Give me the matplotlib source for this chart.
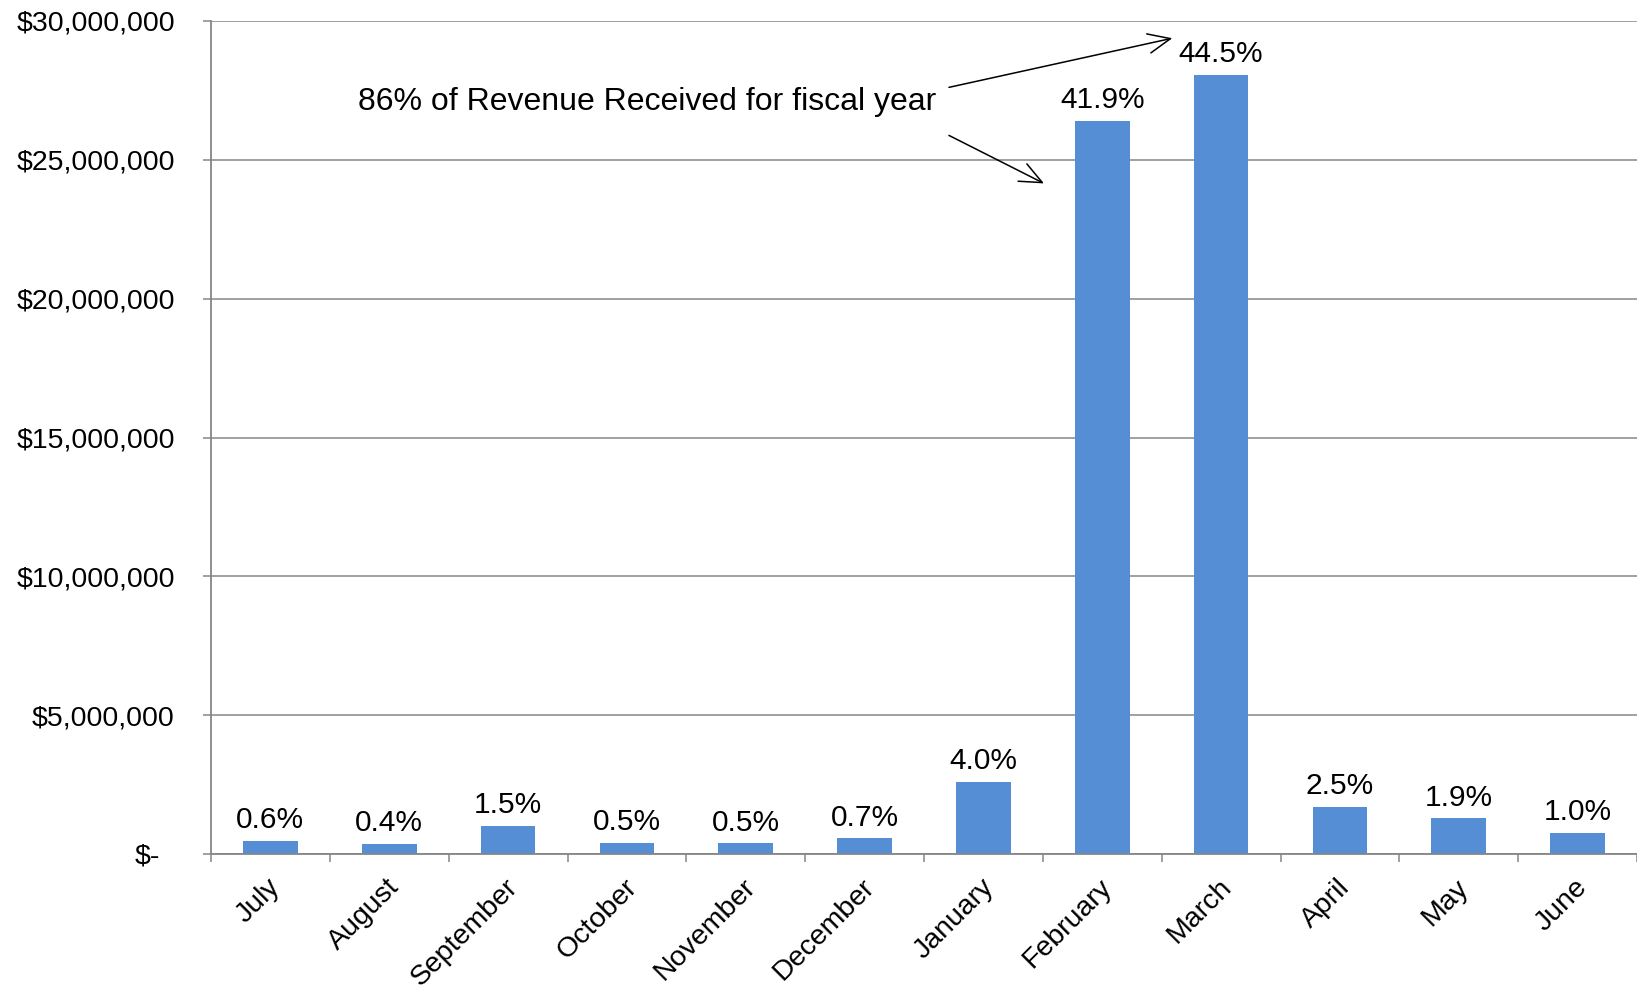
import matplotlib.pyplot as plt
import matplotlib.transforms as mtransforms
from matplotlib.ticker import FuncFormatter, FixedLocator

plt.rcParams['font.family'] = ['Liberation Sans', 'DejaVu Sans']

# monthly revenue (fiscal year order)
months = ['July', 'August', 'September', 'October', 'November', 'December',
          'January', 'February', 'March', 'April', 'May', 'June']
revenue = [470000, 370000, 1020000, 410000, 380000, 560000,
           2590000, 26400000, 28060000, 1690000, 1280000, 760000]
pct_labels = ['0.6%', '0.4%', '1.5%', '0.5%', '0.5%', '0.7%',
              '4.0%', '41.9%', '44.5%', '2.5%', '1.9%', '1.0%']
y_ticks = [0, 5000000, 10000000, 15000000, 20000000, 25000000, 30000000]
note = '86% of Revenue Received for fiscal year'

bar_color = '#558ED5'
grid_color = '#868686'

fig = plt.figure(figsize=(16.37, 9.92), dpi=100)
ax = fig.add_axes([211 / 1637, 1 - 854 / 992, 1 - 211 / 1637, (854 - 21) / 992])

x = list(range(len(months)))
bars = ax.bar(x, revenue, width=0.46, color=bar_color, zorder=3)

# percentage labels above bars
for b, lab in zip(bars, pct_labels):
    ax.annotate(lab, (b.get_x() + b.get_width() / 2, b.get_height()),
                xytext=(0, 5), textcoords='offset points',
                ha='center', va='bottom', fontsize=21.5, zorder=4)

ax.set_xlim(-0.5, len(months) - 0.5)
ax.set_ylim(0, 30000000)

# y axis
ax.yaxis.set_major_locator(FixedLocator(y_ticks))
ax.yaxis.set_major_formatter(FuncFormatter(lambda v, p: '$-' if v == 0 else '${:,.0f}'.format(v)))
ax.tick_params(axis='y', length=6, width=1.1, color=grid_color, pad=20, labelsize=20.5)
ax.grid(axis='y', color=grid_color, linewidth=1.1, zorder=0)
# the "$-" label sits a bit further left
lbls = ax.get_yticklabels()
lbls[0].set_transform(lbls[0].get_transform() +
                      mtransforms.ScaledTranslation(-15 / 100, 0, fig.dpi_scale_trans))

# x axis: tick marks between categories, labels at centers
ax.xaxis.set_major_locator(FixedLocator([i - 0.5 for i in range(len(months) + 1)]))
ax.xaxis.set_minor_locator(FixedLocator(x))
ax.set_xticklabels([''] * (len(months) + 1))
ax.set_xticklabels(months, minor=True, rotation=45, ha='right', rotation_mode='anchor')
ax.tick_params(axis='x', which='major', length=6, width=1.1, color=grid_color)
ax.tick_params(axis='x', which='minor', length=0, pad=14.5, labelsize=20.5)
off = mtransforms.ScaledTranslation(-3 / 100, 0, fig.dpi_scale_trans)
for t in ax.get_xticklabels(minor=True):
    t.set_transform(t.get_transform() + off)

for s in ['top', 'right']:
    ax.spines[s].set_visible(False)
for s in ['left', 'bottom']:
    ax.spines[s].set_color(grid_color)
    ax.spines[s].set_linewidth(1.3)
    ax.spines[s].set_zorder(5)

# annotation
ax.text(5.6, 27100000, note, ha='right', va='center', fontsize=23)
arrow = dict(arrowstyle='->,head_length=0.8,head_width=0.35', color='black', lw=1.1,
             mutation_scale=20, shrinkA=0, shrinkB=0)
ax.annotate('', xy=(7.59, 29380000), xytext=(5.71, 27610000), arrowprops=arrow,
            annotation_clip=False)
ax.annotate('', xy=(6.51, 24150000), xytext=(5.71, 25880000), arrowprops=arrow,
            annotation_clip=False)

fig.savefig('out.png', dpi=100)
